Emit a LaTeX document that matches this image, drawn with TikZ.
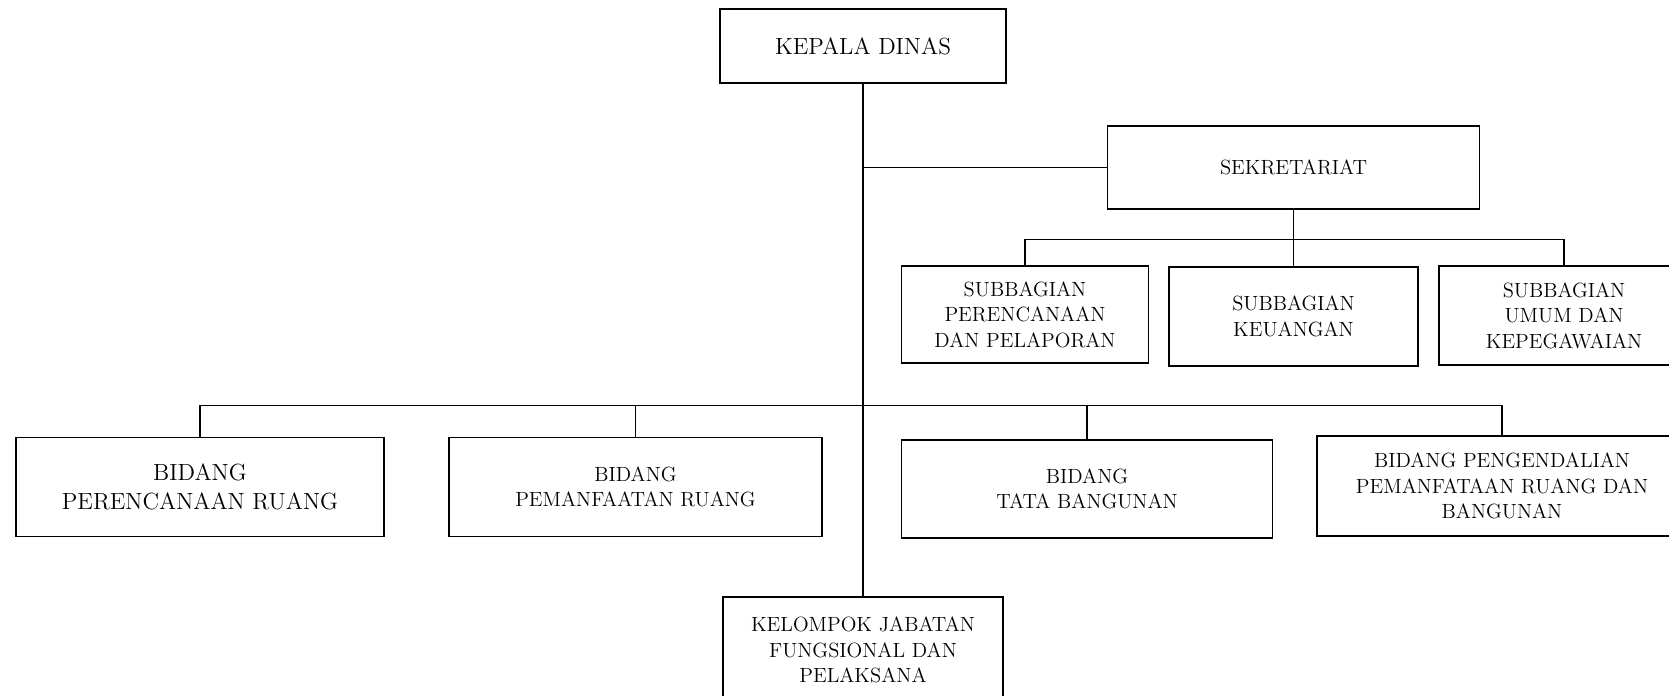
\documentclass[tikz,border=0pt]{standalone}
\usepackage{tikz}
\usetikzlibrary{positioning,calc}

\begin{document}
\begin{tikzpicture}[
    unit/.style={rectangle, draw=black, line width=1pt, align=center, font=\fontsize{11.7}{14.5}\selectfont},
    bigunit/.style={unit, font=\fontsize{13.3}{16.3}\selectfont},
    link/.style={draw=black, line width=0.8pt}
]

\useasboundingbox (0,0) rectangle (33.38,13.92);

% Head
\node[bigunit, minimum width=5.72cm, minimum height=1.49cm] (kepala) at (17.26, 13.00) {KEPALA DINAS};

% Secretariat
\node[unit, minimum width=7.44cm, minimum height=1.66cm] (sekretariat) at (25.87, 10.57) {SEKRETARIAT};

% Sub-sections
\node[unit, minimum width=4.94cm, minimum height=1.94cm] (subrencana) at (20.50, 7.63) {SUBBAGIAN\\PERENCANAAN\\DAN PELAPORAN};
\node[unit, minimum width=4.98cm, minimum height=1.98cm] (subuang) at (25.87, 7.59) {SUBBAGIAN\\KEUANGAN};
\node[unit, minimum width=5.00cm, minimum height=1.98cm] (subumum) at (31.28, 7.61) {SUBBAGIAN\\UMUM DAN\\KEPEGAWAIAN};

% Divisions
\node[bigunit, minimum width=7.36cm, minimum height=1.98cm] (bidrencana) at (4.00, 4.18) {BIDANG\\PERENCANAAN RUANG};
\node[unit, minimum width=7.46cm, minimum height=1.98cm] (bidmanfaat) at (12.71, 4.18) {BIDANG\\PEMANFAATAN RUANG};
\node[unit, minimum width=7.42cm, minimum height=1.97cm] (bidtata) at (21.74, 4.14) {BIDANG\\TATA BANGUNAN};
\node[unit, minimum width=7.40cm, minimum height=2.00cm] (bidkendali) at (30.04, 4.20) {BIDANG PENGENDALIAN\\PEMANFATAAN RUANG DAN\\BANGUNAN};

% Functional group
\node[unit, minimum width=5.60cm, minimum height=2.12cm] (fungsional) at (17.26, 0.92) {KELOMPOK JABATAN\\FUNGSIONAL DAN\\PELAKSANA};

% Connectors
\coordinate (subbar) at (0, 9.13);
\coordinate (bidbar) at (0, 5.81);

\draw[link] (kepala.south) -- (fungsional.north);
\draw[link] (kepala.south |- sekretariat.west) -- (sekretariat.west);

\draw[link] (sekretariat.south) -- (sekretariat.south |- subbar);
\draw[link] (subrencana.north) -- (subrencana.north |- subbar) -- (subumum.north |- subbar) -- (subumum.north);
\draw[link] (subuang.north) -- (subuang.north |- subbar);

\draw[link] (bidrencana.north) -- (bidrencana.north |- bidbar) -- (bidkendali.north |- bidbar) -- (bidkendali.north);
\draw[link] (bidmanfaat.north) -- (bidmanfaat.north |- bidbar);
\draw[link] (bidtata.north) -- (bidtata.north |- bidbar);

\end{tikzpicture}
\end{document}
